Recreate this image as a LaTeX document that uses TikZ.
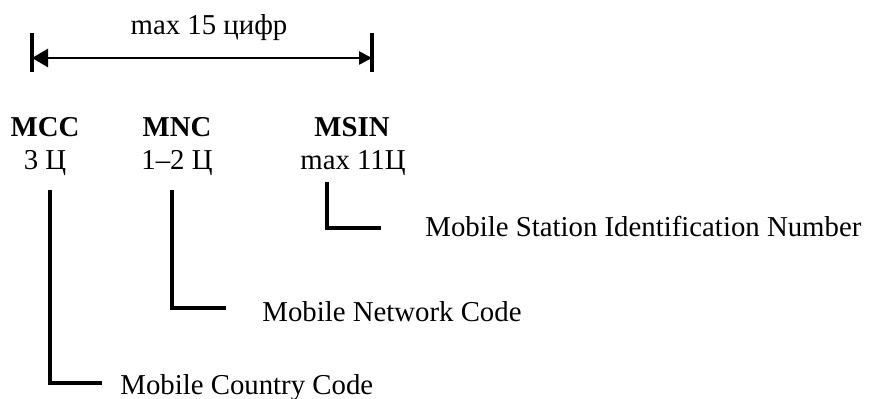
\documentclass[tikz,border=0pt]{standalone}
\usepackage{fontspec}
\setmainfont{Liberation Serif}
\usetikzlibrary{arrows.meta}
\begin{document}
\begin{tikzpicture}[x=0.5pt,y=-0.5pt,
  txt/.style={inner sep=0pt, font=\fontsize{14.4}{17}\selectfont},
  hdr/.style={txt, anchor=base, font=\fontsize{14.4}{17}\selectfont\bfseries},
  sub/.style={txt, anchor=base},
  desc/.style={txt, anchor=base west},
  lead/.style={line width=1.6pt, line join=miter},
  tick/.style={line width=1.6pt},
  dim/.style={line width=1.3pt,
    {Triangle[length=8pt,width=9pt]}-{Triangle[length=6.5pt,width=6.5pt]}}]
  \useasboundingbox (0,0) rectangle (870,399);

  % overall length dimension
  \coordinate (lt) at (32,33);  \coordinate (lb) at (32,72);
  \coordinate (rt) at (372,33); \coordinate (rb) at (372,72);
  \coordinate (la) at (32,58);  \coordinate (ra) at (372,58);
  \draw[tick] (lt) -- (lb);
  \draw[tick] (rt) -- (rb);
  \draw[dim] (la) -- (ra);
  \node[sub] (len) at (209,35) {max 15 цифр};

  % field headers and digit counts
  \node[hdr] (mcc)  at (45,137)  {MCC};
  \node[hdr] (mnc)  at (177,137) {MNC};
  \node[hdr] (msin) at (352,137) {MSIN};
  \node[sub] (mccn)  at (45,170)  {3 Ц};
  \node[sub] (mncn)  at (177,170) {1–2 Ц};
  \node[sub] (msinn) at (353,170) {max 11Ц};

  % descriptions
  \node[desc] (msind) at (425,237) {Mobile Station Identification Number};
  \node[desc] (mncd)  at (262,322) {Mobile Network Code};
  \node[desc] (mccd)  at (120,394) {Mobile Country Code};

  % leaders: each drops from under its field and turns right towards its description
  \coordinate (msintop) at (327,182); \coordinate (msinend) at (381,228);
  \coordinate (mnctop)  at (172,190); \coordinate (mncend)  at (226,308);
  \coordinate (mcctop)  at (50,190);  \coordinate (mccend)  at (102,383);
  \draw[lead] (msintop) |- (msinend);
  \draw[lead] (mnctop)  |- (mncend);
  \draw[lead] (mcctop)  |- (mccend);
\end{tikzpicture}
\end{document}
